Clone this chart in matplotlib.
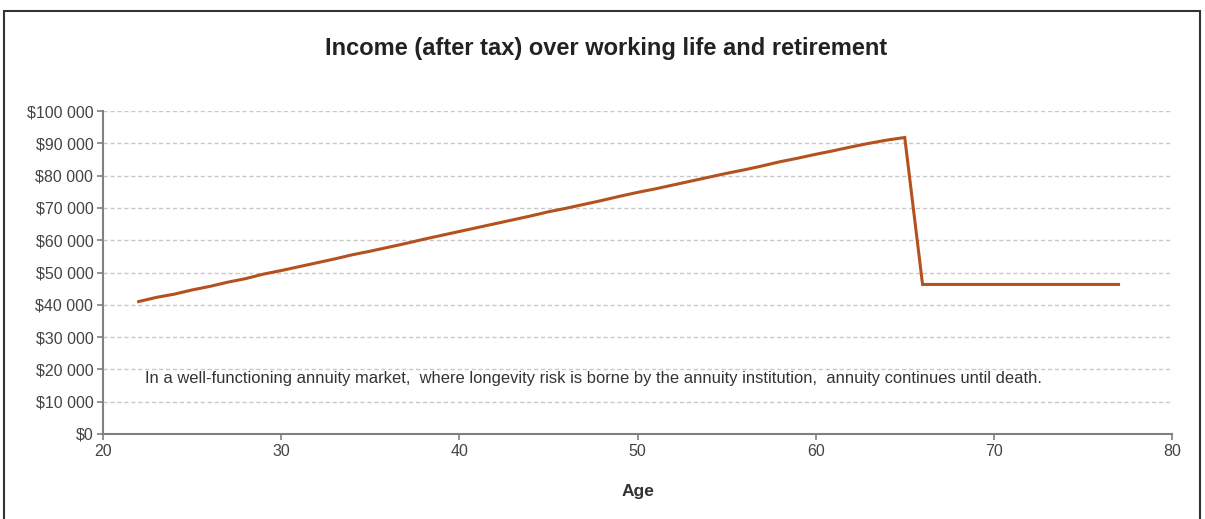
import numpy as np
import matplotlib.pyplot as plt
from matplotlib.patches import Rectangle
from matplotlib.ticker import FuncFormatter

plt.rcParams['font.family'] = ['Liberation Sans', 'DejaVu Sans']

# ages and after-tax income
work_ages = list(range(22, 66))
work_income = [41000, 42300, 43300, 44600, 45700, 47000, 48100, 49500, 50600, 51800,
               53000, 54200, 55500, 56600, 57800, 59000, 60300, 61500, 62700, 63900,
               65100, 66300, 67500, 68800, 69900, 71100, 72300, 73600, 74800, 75900,
               77100, 78300, 79500, 80700, 81800, 83000, 84300, 85400, 86600, 87700,
               88900, 90000, 91000, 91800]
retire_ages = list(range(66, 78))
retire_income = [46300] * len(retire_ages)

ages = work_ages + retire_ages
income = work_income + retire_income

yticks = list(range(0, 100001, 10000))
xticks = [20, 30, 40, 50, 60, 70, 80]

fig = plt.figure(figsize=(12.05, 5.19), dpi=100)
ax = fig.add_axes([0.0855, 0.1638, 0.8871, 0.6223])

ax.plot(ages, income, color='#B4521F', lw=2.2, solid_joinstyle='miter')

ax.set_xlim(20, 80)
ax.set_ylim(0, 100000)
ax.set_xticks(xticks)
ax.set_yticks(yticks)
ax.yaxis.set_major_formatter(FuncFormatter(lambda v, p: '$' + f'{int(v):,}'.replace(',', ' ')))
ax.grid(axis='y', color='#c8c8c8', ls=(0, (3, 2)), lw=1)
ax.set_axisbelow(True)

for s in ['top', 'right']:
    ax.spines[s].set_visible(False)
for s in ['left', 'bottom']:
    ax.spines[s].set_color('#808080')
    ax.spines[s].set_linewidth(1.5)
ax.tick_params(colors='#808080', length=4, width=1.2, labelsize=11.5, labelcolor='#444444')
ax.tick_params(axis='y', pad=3)

ax.set_xlabel('Age', fontsize=12.5, fontweight='bold', color='#333333', labelpad=18)
fig.text(0.503, 0.907, 'Income (after tax) over working life and retirement',
         ha='center', va='center', fontsize=17, fontweight='bold', color='#222222')

ax.text(22.35, 17300,
        'In a well-functioning annuity market,  where longevity risk is borne by the annuity institution,  annuity continues until death.',
        fontsize=11.9, color='#333333', va='center', ha='left')

fig.patches.append(Rectangle((0.003, -0.1), 0.993, 1.1 - 11 / 519, transform=fig.transFigure,
                             fill=False, edgecolor='#333333', lw=1.5))

fig.savefig('out.png', dpi=100)
